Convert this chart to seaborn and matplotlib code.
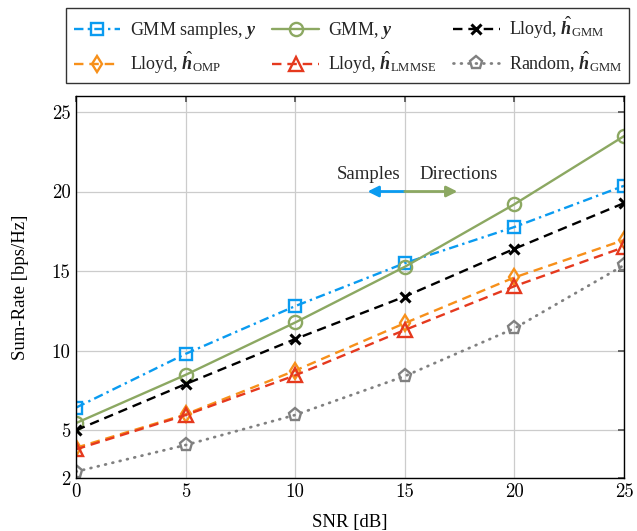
import numpy as np
import pandas as pd
import seaborn as sns
import matplotlib.pyplot as plt

# SNR grid and sum-rate curves
snr = [0, 5, 10, 15, 20, 25]
gmm_samples = [6.42, 9.8, 12.8, 15.5, 17.77, 20.36]
gmm_y = [5.45, 8.48, 11.77, 15.27, 19.2, 23.48]
lloyd_gmm = [5.0, 7.9, 10.73, 13.4, 16.4, 19.27]
lloyd_omp = [3.9, 6.0, 8.75, 11.73, 14.6, 16.95]
lloyd_lmmse = [3.8, 5.95, 8.45, 11.3, 14.05, 16.5]
random_gmm = [2.4, 4.07, 5.96, 8.4, 11.4, 15.37]

labels = [
    r'GMM samples, $\mathbf{y}$',
    r'GMM, $\mathbf{y}$',
    r'Lloyd, $\hat{\mathbf{h}}_{\mathrm{GMM}}$',
    r'Lloyd, $\hat{\mathbf{h}}_{\mathrm{OMP}}$',
    r'Lloyd, $\hat{\mathbf{h}}_{\mathrm{LMMSE}}$',
    r'Random, $\hat{\mathbf{h}}_{\mathrm{GMM}}$',
]

blue = '#0a9bf0'
green = '#8ca862'
orange = '#f7901a'
red = '#e5391e'
gray = '#808080'

sns.set_theme(style='whitegrid')
plt.rcParams['font.family'] = ['Liberation Serif', 'DejaVu Serif']
plt.rcParams['mathtext.fontset'] = 'custom'
plt.rcParams['mathtext.rm'] = 'Liberation Serif'
plt.rcParams['mathtext.it'] = 'Liberation Serif:italic'
plt.rcParams['mathtext.bf'] = 'Liberation Serif:bold:italic'

fig = plt.figure(figsize=(6.37, 5.31), dpi=100)
ax = fig.add_axes([0.1193, 0.0998, 0.8603, 0.7194])

styles = [
    (gmm_samples, blue, 's', (4, 1.8, 1, 1.8), 9),
    (gmm_y, green, 'o', None, 9.5),
    (lloyd_gmm, 'black', 'x', (4, 2.5), 6.5),
    (lloyd_omp, orange, 'd', (4, 2.5), 8.5),
    (lloyd_lmmse, red, '^', (4, 2.5), 9.5),
    (random_gmm, gray, 'p', (0.3, 2.4), 9.5),
]

for (vals, col, mk, dash, ms), lab in zip(styles, labels):
    sns.lineplot(x=snr, y=vals, ax=ax, color=col, marker=mk, markersize=ms,
                 markerfacecolor='none' if mk != 'x' else col,
                 markeredgecolor=col, markeredgewidth=2.2 if mk == 'x' else 1.7,
                 linewidth=1.7, label=lab, legend=False)
    l = ax.get_lines()[-1]
    if dash is not None:
        l.set_dashes(dash)
    if mk == 'p':
        l.set_dash_capstyle('round')
        l.set_linewidth(2.0)

ax.set_xlim(0, 25)
ax.set_ylim(2, 26)
ax.set_xticks([0, 5, 10, 15, 20, 25])
ax.set_yticks([2, 5, 10, 15, 20, 25])
for t in ax.get_xticklabels() + ax.get_yticklabels():
    t.set_fontfamily('cmr10')
    t.set_fontsize(13.5)
ax.tick_params(direction='in', top=True, right=True, length=4, color='#555555',
               pad=4, colors='black')
ax.grid(True, color='#cccccc', linewidth=0.9)
for s in ax.spines.values():
    s.set_color('black')
    s.set_linewidth(1.0)
ax.set_facecolor('white')

ax.set_xlabel('SNR [dB]', fontsize=13.5, labelpad=9, color='black')
ax.set_ylabel('Sum-Rate [bps/Hz]', fontsize=13.5, labelpad=16, color='black')

# Samples / Directions arrows
ax.annotate('', xy=(13.3, 20), xytext=(15, 20),
            arrowprops=dict(arrowstyle='-|>', color=blue, lw=2, mutation_scale=16,
                            shrinkA=0, shrinkB=0))
ax.annotate('', xy=(17.4, 20), xytext=(15, 20),
            arrowprops=dict(arrowstyle='-|>', color=green, lw=2, mutation_scale=16,
                            shrinkA=0, shrinkB=0))
ax.text(13.35, 21.05, 'Samples', ha='center', va='center', fontsize=13.5)
ax.text(17.47, 21.05, 'Directions', ha='center', va='center', fontsize=13.5)

# row-wise legend order
lines = ax.get_lines()[:6]
order = [0, 3, 1, 4, 2, 5]
leg = fig.legend([lines[i] for i in order], [labels[i] for i in order],
                 loc='upper center', bbox_to_anchor=(0.546, 0.985), borderaxespad=0,
                 ncol=3, fontsize=13, frameon=True, fancybox=False, edgecolor='black',
                 handlelength=2.6, columnspacing=0.9, handletextpad=0.5,
                 borderpad=0.4, labelspacing=0.45)
leg.get_frame().set_linewidth(1.0)

fig.savefig('out.png', dpi=100)
